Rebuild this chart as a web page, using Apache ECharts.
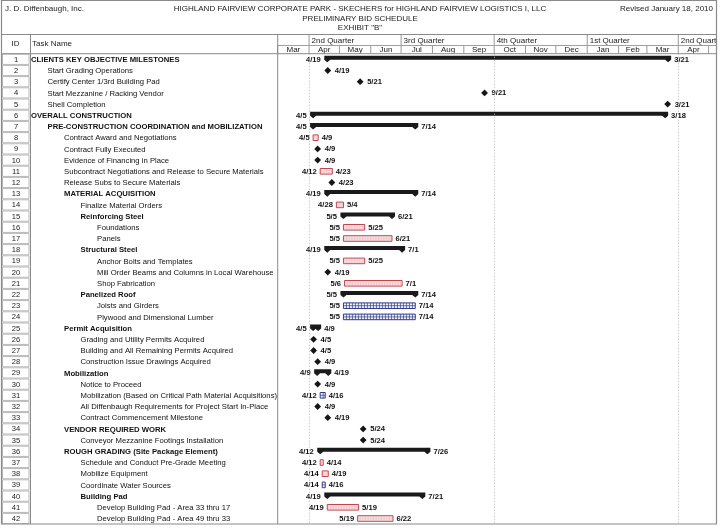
<!DOCTYPE html>
<html><head><meta charset="utf-8">
<script src="https://cdn.jsdelivr.net/npm/echarts@6/dist/echarts.min.js"></script>
<style>html,body{margin:0;padding:0;background:#fff}#c{width:720px;height:529px}</style>
</head><body><div id="c"></div>
<script>
// ---------------- DATA ----------------
const ids = Array.from({length: 42}, (_, k) => k + 1);
const taskNames = [
  'CLIENTS KEY OBJECTIVE MILESTONES',
  'Start Grading Operations',
  'Certify Center 1/3rd Building Pad',
  'Start Mezzanine / Racking Vendor',
  'Shell Completion',
  'OVERALL CONSTRUCTION',
  'PRE-CONSTRUCTION COORDINATION and MOBILIZATION',
  'Contract Award and Negotiations',
  'Contract Fully Executed',
  'Evidence of Financing in Place',
  'Subcontract Negotiations and Release to Secure Materials',
  'Release Subs to Secure Materials',
  'MATERIAL ACQUISITION',
  'Finalize Material Orders',
  'Reinforcing Steel',
  'Foundations',
  'Panels',
  'Structural Steel',
  'Anchor Bolts and Templates',
  'Mill Order Beams and Columns in Local Warehouse',
  'Shop Fabrication',
  'Panelized Roof',
  'Joists and Girders',
  'Plywood and Dimensional Lumber',
  'Permit Acquisition',
  'Grading and Utility Permits Acquired',
  'Building and All Remaining Permits Acquired',
  'Construction Issue Drawings Acquired',
  'Mobilization',
  'Notice to Proceed',
  'Mobilization (Based on Critical Path Material Acquisitions)',
  'All Diffenbaugh Requirements for Project Start In-Place',
  'Contract Commencement Milestone',
  'VENDOR REQUIRED WORK',
  'Conveyor Mezzanine Footings Installation',
  'ROUGH GRADING (Site Package Element)',
  'Schedule and Conduct Pre-Grade Meeting',
  'Mobilize Equipment',
  'Coordinate Water Sources',
  'Building Pad',
  'Develop Building Pad - Area 33 thru 17',
  'Develop Building Pad - Area 49 thru 33'
];
const outlineLevels = [0,1,1,1,1,0,1,2,2,2,2,2,2,3,3,4,4,3,4,4,4,3,4,4,2,3,3,3,2,3,3,3,3,2,3,2,3,3,3,3,4,4];
const groupRows = [1,6,7,13,15,18,22,25,29,34,36,40];
// S = summary, T = task (red), C = task (blue), M = milestone
const barKinds = ['S','M','M','M','M','S','S','T','M','M','T','M','S','T','S','T','T','S','T','M','T','S','C','C','S','M','M','M','S','M','C','M','M','M','M','S','T','T','C','S','T','T'];
const startDates = [
  '2010-04-19','2010-04-19','2010-05-21','2010-09-21','2011-03-21','2010-04-05','2010-04-05','2010-04-05','2010-04-09','2010-04-09',
  '2010-04-12','2010-04-23','2010-04-19','2010-04-28','2010-05-05','2010-05-05','2010-05-05','2010-04-19','2010-05-05','2010-04-19',
  '2010-05-06','2010-05-05','2010-05-05','2010-05-05','2010-04-05','2010-04-05','2010-04-05','2010-04-09','2010-04-09','2010-04-09',
  '2010-04-12','2010-04-09','2010-04-19','2010-05-24','2010-05-24','2010-04-12','2010-04-12','2010-04-14','2010-04-14','2010-04-19',
  '2010-04-19','2010-05-19'
];
const finishDates = [
  '2011-03-21','2010-04-19','2010-05-21','2010-09-21','2011-03-21','2011-03-18','2010-07-14','2010-04-09','2010-04-09','2010-04-09',
  '2010-04-23','2010-04-23','2010-07-14','2010-05-04','2010-06-21','2010-05-25','2010-06-21','2010-07-01','2010-05-25','2010-04-19',
  '2010-07-01','2010-07-14','2010-07-14','2010-07-14','2010-04-09','2010-04-05','2010-04-05','2010-04-09','2010-04-19','2010-04-09',
  '2010-04-16','2010-04-09','2010-04-19','2010-05-24','2010-05-24','2010-07-26','2010-04-14','2010-04-19','2010-04-16','2010-07-21',
  '2010-05-19','2010-06-22'
];
const monthLabels = ['Mar','Apr','May','Jun','Jul','Aug','Sep','Oct','Nov','Dec','Jan','Feb','Mar','Apr','May'];
const monthStarts = ['2010-03-01','2010-04-01','2010-05-01','2010-06-01','2010-07-01','2010-08-01','2010-09-01','2010-10-01','2010-11-01','2010-12-01','2011-01-01','2011-02-01','2011-03-01','2011-04-01','2011-05-01','2011-06-01'];
const quarterLabels = ['', '2nd Quarter', '3rd Quarter', '4th Quarter', '1st Quarter', '2nd Quarter'];
const quarterStarts = ['2010-01-01','2010-04-01','2010-07-01','2010-10-01','2011-01-01','2011-04-01','2011-07-01'];
const gridLineDates = ['2010-04-01','2010-10-01','2011-04-01'];
const axisStart = '2010-03-01';
const axisDays = 433.5;

// ---------------- HELPERS ----------------
const DAY = 86400000;
function ts(s) { const p = s.split('-').map(Number); return new Date(p[0], p[1] - 1, p[2]).getTime(); }
function md(s) { const p = s.split('-').map(Number); return p[1] + '/' + p[2]; }
const xMin = ts(axisStart), xMax = xMin + axisDays * DAY;
const FONT = '"Liberation Sans", Arial, Helvetica, sans-serif';

const G_LEFT = 277.7, G_RIGHT = 716.2, G_TOP = 53.7, G_H = 470.4, H_TOP = 34.5;

function renderGantt(params, api) {
  const i = params.dataIndex;
  const row = api.value(0), s = api.value(1), f = api.value(2);
  const kind = barKinds[i];
  const yc = api.coord([s, row])[1];
  const els = [];
  const lbl = (t, x, align) => ({ type: 'text', style: { text: t, x: x, y: yc + 0.5, align: align, verticalAlign: 'middle', font: 'bold 7.6px ' + FONT, fill: '#111' } });
  if (kind === 'M') {
    const x = api.coord([s + DAY / 2, row])[0];
    els.push({ type: 'polygon', shape: { points: [[x, yc - 3.4], [x + 3.4, yc], [x, yc + 3.4], [x - 3.4, yc]] }, style: { fill: '#151515' } });
    els.push(lbl(md(startDates[i]), x + 7, 'left'));
  } else {
    const x0 = api.coord([s, row])[0], x1 = api.coord([f + DAY, row])[0];
    if (kind === 'S') {
      const t = yc - 3.6, b = yc + 0.4, c = 3;
      els.push({ type: 'polygon', shape: { points: [
        [x0 - c, t], [x1 + c, t], [x1 + c, b], [x1, yc + 3], [x1 - c, b],
        [x0 + c, b], [x0, yc + 3], [x0 - c, b]
      ] }, style: { fill: '#1a1a1a' } });
      els.push(lbl(md(startDates[i]), x0 - 6.5, 'right'));
      els.push(lbl(md(finishDates[i]), x1 + 6, 'left'));
    } else {
      const red = kind === 'T';
      const col = red ? '#c4444f' : '#2f3b86';
      const top = yc - 2.8, h = 5.6;
      els.push({ type: 'rect', shape: { x: x0, y: top, width: x1 - x0, height: h }, style: { fill: red ? '#f8e6e8' : '#f2f3fa' } });
      if (red) {
        for (let x = x0 + 1.5; x < x1 - 0.5; x += 1.6) {
          els.push({ type: 'line', shape: { x1: x, y1: top + 1, x2: x, y2: top + h - 1 }, style: { stroke: '#e4b6bb', lineWidth: 0.6 } });
        }
      } else {
        for (let x = x0 + 3; x < x1 - 0.8; x += 3) {
          els.push({ type: 'line', shape: { x1: x, y1: top, x2: x, y2: top + h }, style: { stroke: col, lineWidth: 0.7 } });
        }
        els.push({ type: 'line', shape: { x1: x0, y1: yc, x2: x1, y2: yc }, style: { stroke: col, lineWidth: 0.7 } });
      }
      els.push({ type: 'rect', shape: { x: x0, y: top, width: x1 - x0, height: h }, style: { fill: 'none', stroke: col, lineWidth: 1 } });
      els.push(lbl(md(startDates[i]), x0 - 3.5, 'right'));
      els.push(lbl(md(finishDates[i]), x1 + 3.5, 'left'));
    }
  }
  return { type: 'group', children: els };
}

function renderTable(params, api) {
  const i = params.dataIndex;
  const row = api.value(1);
  const cs = params.coordSys;
  const yc = api.coord([0, row])[1];
  const h = api.size([0, 1])[1];
  const idW = 29;
  const bold = groupRows.indexOf(ids[i]) >= 0;
  return { type: 'group', children: [
    { type: 'rect', shape: { x: cs.x + 1.5, y: yc - h / 2 + 0.5, width: idW - 2.5, height: h - 1 }, style: { fill: '#fff', stroke: '#b8b8b8', lineWidth: 1 } },
    { type: 'text', style: { text: String(ids[i]), x: cs.x + idW / 2 + 0.5, y: yc + 0.5, align: 'center', verticalAlign: 'middle', font: '7.6px ' + FONT, fill: '#222' } },
    { type: 'text', style: { text: taskNames[i], x: cs.x + idW + 1 + outlineLevels[i] * 16.5, y: yc + 0.5, align: 'left', verticalAlign: 'middle', font: (bold ? 'bold ' : '') + '7.7px ' + FONT, fill: '#111' } }
  ] };
}

function renderQuarter(params, api) {
  const cs = params.coordSys;
  const x0 = api.coord([api.value(0), 0])[0];
  const i = params.dataIndex;
  return { type: 'group', children: [
    { type: 'line', shape: { x1: x0, y1: cs.y, x2: x0, y2: cs.y + 11 }, style: { stroke: '#999', lineWidth: 1 } },
    { type: 'text', style: { text: quarterLabels[i], x: x0 + 2.5, y: cs.y + 6, align: 'left', verticalAlign: 'middle', font: '8px ' + FONT, fill: '#222' } }
  ] };
}
function renderMonth(params, api) {
  const cs = params.coordSys;
  const x0 = api.coord([api.value(0), 0])[0];
  const x1 = api.coord([api.value(1), 0])[0];
  const i = params.dataIndex;
  return { type: 'group', children: [
    { type: 'line', shape: { x1: x0, y1: cs.y + 11, x2: x0, y2: cs.y + cs.height }, style: { stroke: '#999', lineWidth: 1 } },
    { type: 'text', style: { text: monthLabels[i], x: (x0 + x1) / 2, y: cs.y + 15.3, align: 'center', verticalAlign: 'middle', font: '8px ' + FONT, fill: '#222' } }
  ] };
}

const ganttData = ids.map((id, i) => [i, ts(startDates[i]), ts(finishDates[i])]);
const tableData = ids.map((id, i) => [0, i]);
const quarterData = quarterLabels.map((q, i) => [ts(quarterStarts[i]), ts(quarterStarts[i + 1]), 0]);
const monthData = monthLabels.map((m, i) => [ts(monthStarts[i]), ts(monthStarts[i + 1]), 0]);

const frameColor = '#8a8a8a', lineColor = '#a0a0a0';
const tStyle = { fontFamily: FONT, fontSize: 8, fontWeight: 'normal', color: '#222' };
const option = {
  animation: false,
  backgroundColor: '#fff',
  title: [
    { text: 'J. D. Diffenbaugh, Inc.', left: 5, top: 5, padding: 0, textStyle: tStyle },
    { text: 'HIGHLAND FAIRVIEW CORPORATE PARK - SKECHERS for HIGHLAND FAIRVIEW LOGISTICS I, LLC', left: 'center', top: 5, padding: 0, textStyle: tStyle },
    { text: 'PRELIMINARY BID SCHEDULE', left: 'center', top: 14.5, padding: 0, textStyle: tStyle },
    { text: 'EXHIBIT "B"', left: 'center', top: 23.5, padding: 0, textStyle: tStyle },
    { text: 'Revised January 18, 2010', right: 7, top: 5, padding: 0, textStyle: tStyle }
  ],
  grid: [
    { left: G_LEFT, top: G_TOP, width: G_RIGHT - G_LEFT, height: G_H, show: false },
    { left: G_LEFT, top: H_TOP, width: G_RIGHT - G_LEFT, height: G_TOP - H_TOP, show: false },
    { left: 1, top: G_TOP, width: G_LEFT - 1, height: G_H, show: false }
  ],
  xAxis: [
    { type: 'time', gridIndex: 0, min: xMin, max: xMax, show: false },
    { type: 'time', gridIndex: 1, min: xMin, max: xMax, show: false },
    { type: 'value', gridIndex: 2, min: 0, max: 1, show: false }
  ],
  yAxis: [
    { type: 'category', gridIndex: 0, data: ids, inverse: true, show: false },
    { type: 'value', gridIndex: 1, min: 0, max: 1, show: false },
    { type: 'category', gridIndex: 2, data: ids, inverse: true, show: false }
  ],
  graphic: [
    { type: 'rect', shape: { x: 1.5, y: 0.5, width: 715, height: 523.5 }, style: { fill: 'none', stroke: frameColor, lineWidth: 1.2 }, z: 10 },
    { type: 'line', shape: { x1: 1.5, y1: H_TOP, x2: 716.5, y2: H_TOP }, style: { stroke: frameColor, lineWidth: 1 }, z: 10 },
    { type: 'line', shape: { x1: 1.5, y1: G_TOP, x2: 716.5, y2: G_TOP }, style: { stroke: frameColor, lineWidth: 1 }, z: 10 },
    { type: 'line', shape: { x1: G_LEFT, y1: H_TOP + 11, x2: 716.5, y2: H_TOP + 11 }, style: { stroke: lineColor, lineWidth: 1 }, z: 10 },
    { type: 'line', shape: { x1: 30.5, y1: H_TOP, x2: 30.5, y2: 524 }, style: { stroke: frameColor, lineWidth: 1 }, z: 10 },
    { type: 'line', shape: { x1: G_LEFT, y1: H_TOP, x2: G_LEFT, y2: 524 }, style: { stroke: frameColor, lineWidth: 1 }, z: 10 },
    { type: 'text', style: { text: 'ID', x: 15.5, y: 44, align: 'center', verticalAlign: 'middle', font: '8px ' + FONT, fill: '#222' }, z: 10 },
    { type: 'text', style: { text: 'Task Name', x: 32, y: 44, align: 'left', verticalAlign: 'middle', font: '8px ' + FONT, fill: '#222' }, z: 10 }
  ],
  series: [
    {
      type: 'custom', name: 'gantt', xAxisIndex: 0, yAxisIndex: 0,
      encode: { x: [1, 2], y: 0 }, data: ganttData, renderItem: renderGantt, silent: true,
      markLine: {
        silent: true, symbol: ['none', 'none'], label: { show: false },
        lineStyle: { type: [1, 2], color: '#b5b5b5', width: 1 },
        data: gridLineDates.map(d => ({ xAxis: ts(d) }))
      }
    },
    { type: 'custom', name: 'quarters', xAxisIndex: 1, yAxisIndex: 1, encode: { x: [0, 1], y: 2 }, data: quarterData, renderItem: renderQuarter, clip: true, silent: true },
    { type: 'custom', name: 'months', xAxisIndex: 1, yAxisIndex: 1, encode: { x: [0, 1], y: 2 }, data: monthData, renderItem: renderMonth, clip: true, silent: true },
    { type: 'custom', name: 'table', xAxisIndex: 2, yAxisIndex: 2, encode: { x: 0, y: 1 }, data: tableData, renderItem: renderTable, silent: true }
  ]
};
const chart = echarts.init(document.getElementById('c'), null, { renderer: 'canvas' });
chart.setOption(option);
</script>
</body></html>
